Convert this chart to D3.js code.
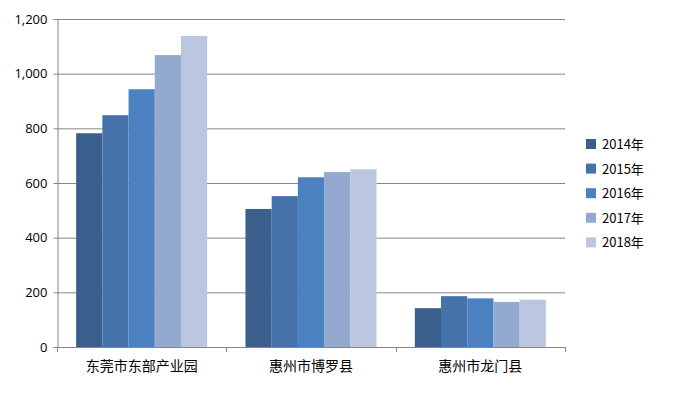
<!DOCTYPE html><html><head><meta charset="utf-8"><script src="https://cdn.jsdelivr.net/npm/d3@7"></script>
<style>body{margin:0;background:#fff}text{font-family:"Noto Sans CJK SC","Open Sans",sans-serif;fill:#000}</style></head><body>
<svg id="c" width="684" height="400"></svg>
<script>
const categories=["东莞市东部产业园","惠州市博罗县","惠州市龙门县"];
const years=["2014年","2015年","2016年","2017年","2018年"];
const s2014=[782,505,142];
const s2015=[848,552,186];
const s2016=[943,621,178];
const s2017=[1068,640,165];
const s2018=[1138,650,173];
const series=[s2014,s2015,s2016,s2017,s2018];
const colors=["#3b5f8c","#4572ab","#4b80c1","#94a9cf","#bbc7e0"];
const yTicks=[0,200,400,600,800,1000,1200];
const svg=d3.select("#c");
const L=57,R=565,T=19,B=347;
const x=d3.scaleBand().domain(categories).range([L,R]);
const y=d3.scaleLinear().domain([0,1200]).range([B,T]);
const inner=d3.scaleBand().domain(d3.range(5)).range([0,x.bandwidth()]).paddingOuter(0.73).paddingInner(0);
svg.append("g").selectAll("line").data(yTicks.slice(1)).join("line")
 .attr("x1",L).attr("x2",R).attr("y1",d=>y(d)+.5).attr("y2",d=>y(d)+.5).attr("stroke","#868686");
categories.forEach((c,i)=>{
 svg.append("g").selectAll("rect").data(series).join("rect")
  .attr("x",(s,j)=>x(c)+inner(j)).attr("width",inner.bandwidth())
  .attr("y",s=>y(s[i])).attr("height",s=>B-y(s[i])).attr("fill",(s,j)=>colors[j]);
});
const ya=svg.append("g").attr("transform",`translate(${L+.5},0)`).call(d3.axisLeft(y).tickValues(yTicks).tickSize(4).tickPadding(6));
ya.selectAll("text").style("font-size","13px").style("font-family","'Open Sans',sans-serif");
ya.select(".domain").attr("stroke","#868686");ya.selectAll("line").attr("stroke","#868686");
svg.append("line").attr("x1",L).attr("x2",R).attr("y1",B+.5).attr("y2",B+.5).attr("stroke","#868686");
svg.append("g").selectAll("line").data([L,R].concat(categories.slice(1).map(c=>x(c)))).join("line")
 .attr("x1",d=>Math.round(d)+.5).attr("x2",d=>Math.round(d)+.5).attr("y1",B).attr("y2",B+5).attr("stroke","#868686");
svg.append("g").selectAll("text").data(categories).join("text")
 .attr("x",d=>x(d)+x.bandwidth()/2).attr("y",371).attr("text-anchor","middle").style("font-size","14px").text(d=>d);
const lg=svg.append("g").selectAll("g").data(years).join("g").attr("transform",(d,i)=>`translate(586,${139+i*24.6})`);
lg.append("rect").attr("width",10).attr("height",10).attr("fill",(d,i)=>colors[i]);
lg.append("text").attr("x",16).attr("y",10).style("font-size","13px").text(d=>d);
</script></body></html>
